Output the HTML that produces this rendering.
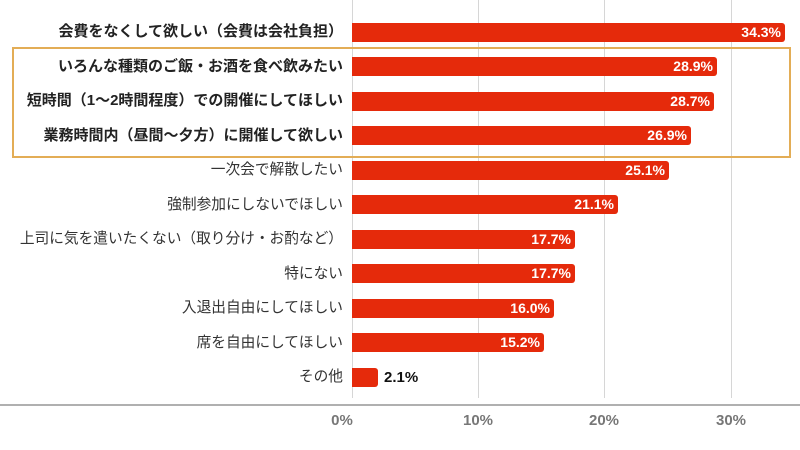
<!DOCTYPE html>
<html><head><meta charset="utf-8"><style>
html,body{margin:0;padding:0;background:#fff;}
body{width:800px;height:450px;position:relative;overflow:hidden;font-family:"Liberation Sans","Noto Sans CJK JP",sans-serif;}
.g{position:absolute;top:0;height:398px;width:1px;background:#d6d6d6;}
.bar{position:absolute;left:352px;height:19px;background:#e52a0b;border-radius:0 3px 3px 0;color:#fff;font-weight:bold;font-size:14px;line-height:19px;text-align:right;box-sizing:border-box;padding-right:4px;}
.lab{position:absolute;right:457px;font-size:14.7px;line-height:20px;color:#333;white-space:nowrap;}
.b{font-weight:bold;color:#222;font-size:15px;}
.t{position:absolute;top:412px;font-size:15px;font-weight:bold;color:#777;width:60px;text-align:center;}
</style></head><body>
<div class="g" style="left:352px"></div>
<div class="g" style="left:478px"></div>
<div class="g" style="left:604px"></div>
<div class="g" style="left:731px"></div>
<div style="position:absolute;left:12px;top:47px;width:775px;height:107px;border:2px solid #e3ad56;"></div>

<div class="lab b" style="top:22px">会費をなくして欲しい（会費は会社負担）</div>
<div class="bar" style="top:23px;width:433px">34.3%</div>
<div class="lab b" style="top:57px">いろんな種類のご飯・お酒を食べ飲みたい</div>
<div class="bar" style="top:57px;width:365px">28.9%</div>
<div class="lab b" style="top:91px">短時間（1〜2時間程度）での開催にしてほしい</div>
<div class="bar" style="top:92px;width:362px">28.7%</div>
<div class="lab b" style="top:126px">業務時間内（昼間〜夕方）に開催して欲しい</div>
<div class="bar" style="top:126px;width:339px">26.9%</div>
<div class="lab" style="top:160px">一次会で解散したい</div>
<div class="bar" style="top:161px;width:317px">25.1%</div>
<div class="lab" style="top:195px">強制参加にしないでほしい</div>
<div class="bar" style="top:195px;width:266px">21.1%</div>
<div class="lab" style="top:229px">上司に気を遣いたくない（取り分け・お酌など）</div>
<div class="bar" style="top:230px;width:223px">17.7%</div>
<div class="lab" style="top:264px">特にない</div>
<div class="bar" style="top:264px;width:223px">17.7%</div>
<div class="lab" style="top:298px">入退出自由にしてほしい</div>
<div class="bar" style="top:299px;width:202px">16.0%</div>
<div class="lab" style="top:333px">席を自由にしてほしい</div>
<div class="bar" style="top:333px;width:192px">15.2%</div>
<div class="lab" style="top:367px">その他</div>
<div class="bar" style="top:368px;width:26px"></div>
<div style="position:absolute;left:384px;top:368px;font-size:15px;font-weight:bold;color:#111;line-height:19px;">2.1%</div>

<div style="position:absolute;left:0;top:404px;width:800px;height:2px;background:#b0b0b0;"></div>
<div class="t" style="left:312px">0%</div>
<div class="t" style="left:448px">10%</div>
<div class="t" style="left:574px">20%</div>
<div class="t" style="left:701px">30%</div>
</body></html>
